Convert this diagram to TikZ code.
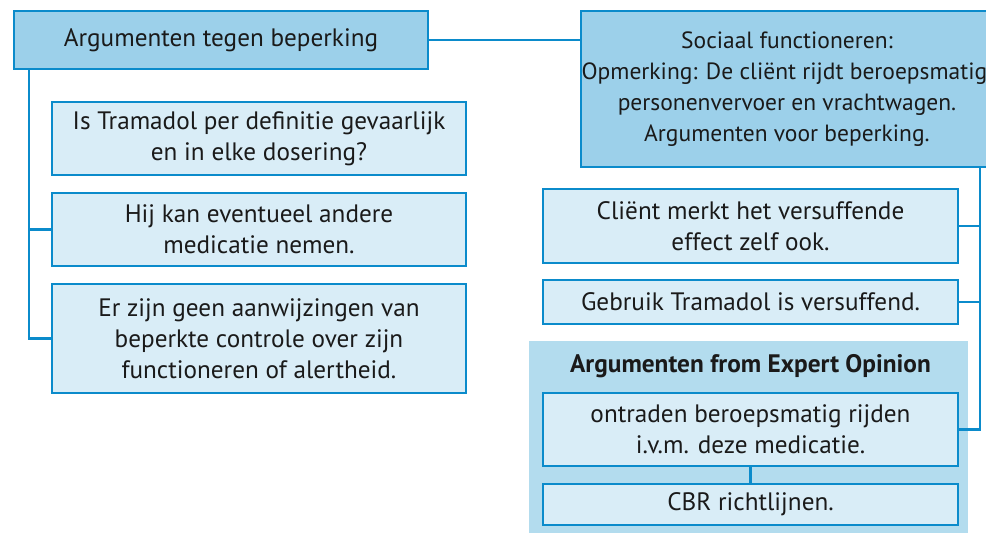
\documentclass[tikz,border=0pt]{standalone}
\usepackage{fontspec}
\setmainfont{PT Sans}
\definecolor{edgeblue}{HTML}{0B8BCB}
\definecolor{headfill}{HTML}{9CD0EA}
\definecolor{itemfill}{HTML}{D9EDF7}
\definecolor{groupfill}{HTML}{B3DCEE}
\definecolor{inktext}{HTML}{1A1A1A}
\tikzset{
  base/.style={draw=edgeblue, line width=2.6pt, align=center, text=inktext,
    inner sep=0pt, font=\fontsize{25.2}{31}\selectfont},
  headbox/.style={base, fill=headfill},
  itembox/.style={base, fill=itemfill},
  link/.style={draw=edgeblue, line width=2.2pt}
}
\begin{document}
\begin{tikzpicture}[x=1pt, y=-1pt]
  \useasboundingbox (0,0) rectangle (986,533);
  \clip (0,0) rectangle (986,533);
  % group background
  \fill[groupfill] (529,341) rectangle (968,540);
  \node[font=\bfseries\fontsize{25.3}{31}\selectfont, text=inktext] (grouptitle) at (750.5,366) {Argumenten from Expert Opinion};

  % heads
  \node[headbox, minimum width=414pt, minimum height=58pt] (tegen) at (221,40) {Argumenten tegen beperking};
  \node[headbox, minimum width=412pt, minimum height=156pt, font=\fontsize{23.5}{31}\selectfont] (sociaal) at (787,89)
    {Sociaal functioneren:\\Opmerking: De cliënt rijdt beroepsmatig:\\personenvervoer en vrachtwagen.\\Argumenten voor beperking.};

  % left items
  \node[itembox, minimum width=414pt, minimum height=73pt] (l1) at (259,138.5) {Is Tramadol per definitie gevaarlijk\\en in elke dosering?};
  \node[itembox, minimum width=414pt, minimum height=73pt] (l2) at (259,229.5) {Hij kan eventueel andere\\medicatie nemen.};
  \node[itembox, minimum width=414pt, minimum height=109pt] (l3) at (259,338.5) {Er zijn geen aanwijzingen van\\beperkte controle over zijn\\functioneren of alertheid.};

  % right items
  \node[itembox, minimum width=415pt, minimum height=74pt] (r1) at (750.5,226) {Cliënt merkt het versuffende\\effect zelf ook.};
  \node[itembox, minimum width=415pt, minimum height=44pt] (r2) at (750.5,302) {Gebruik Tramadol is versuffend.};
  \node[itembox, minimum width=415pt, minimum height=73pt] (r3) at (750.5,429.5) {ontraden beroepsmatig rijden\\i.v.m. deze medicatie.};
  \node[itembox, minimum width=415pt, minimum height=41pt] (r4) at (750.5,504.5) {CBR richtlijnen.};

  % trunks
  \coordinate (ltop) at (29,69);
  \coordinate (rtop) at (980,167);
  \draw[link] (tegen.east) -- (tegen.east -| sociaal.west);
  \draw[link] (ltop) |- (l3.west);
  \draw[link] (ltop |- l2.west) -- (l2.west);
  \draw[link] (rtop) |- (r3.east);
  \draw[link] (rtop |- r1.east) -- (r1.east);
  \draw[link] (rtop |- r2.east) -- (r2.east);
  \draw[link] (r3.south) -- (r4.north);
\end{tikzpicture}
\end{document}
